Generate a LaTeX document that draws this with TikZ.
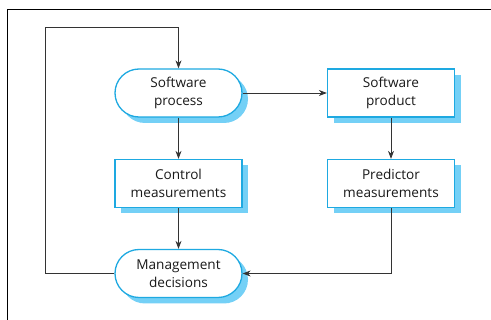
\documentclass[tikz,border=0pt]{standalone}
\usepackage{fontspec}
\setmainfont{Open Sans}
\usetikzlibrary{arrows.meta,shadows}
\definecolor{bord}{HTML}{1EA9E1}
\definecolor{shad}{HTML}{74D0F6}
\definecolor{lin}{HTML}{333333}
\begin{document}
\begin{tikzpicture}[x=1pt,y=-1pt,
  base/.style={draw=bord,line width=1.3pt,fill=white,minimum width=127pt,minimum height=48pt,
    align=center,inner sep=0pt,text=black!90,font=\fontsize{13.6}{18}\selectfont,
    drop shadow={shadow xshift=6pt,shadow yshift=-6pt,fill=shad,opacity=1}},
  stadium/.style={base,rounded corners=24pt},
  box/.style={base},
  conn/.style={draw=lin,line width=0.8pt,-{Stealth[length=8pt,width=6pt]}},
  plain/.style={draw=lin,line width=0.8pt}]
\useasboundingbox (0,0) rectangle (491,320);
\draw[black,line width=1pt] (7,320) -- (7,9.5) -- (491,9.5);
\node[stadium] (sp) at (178.5,93) {Software\\process};
\node[box] (prod) at (391,93) {Software\\product};
\node[box] (cm) at (178.5,183.5) {Control\\measurements};
\node[box] (pm) at (391,183.5) {Predictor\\measurements};
\node[stadium] (md) at (178.5,273.5) {Management\\decisions};
\coordinate (tl) at (45,27);
\coordinate (bl) at (45,273.5);
\coordinate (br) at (391,273.5);
\draw[conn] (sp) -- (prod);
\draw[conn] (sp) -- (cm);
\draw[conn] (prod) -- (pm);
\draw[conn] (cm) -- (md);
\draw[conn] (pm.south) -- (br) -- (md.east);
\draw[conn] (md.west) -- (bl) -- (tl) -| (sp.north);
\end{tikzpicture}
\end{document}
